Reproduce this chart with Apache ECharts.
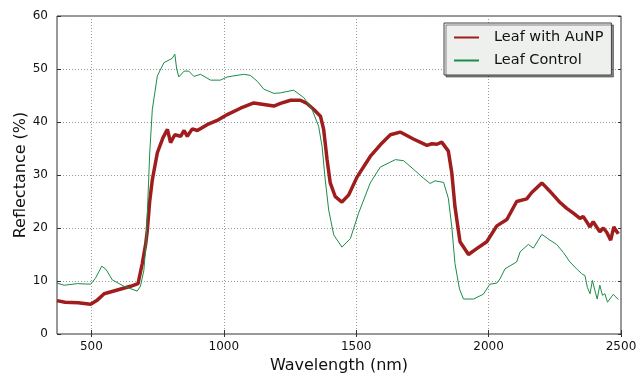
<!DOCTYPE html>
<html>
<head>
<meta charset="utf-8">
<script src="https://cdn.jsdelivr.net/npm/echarts@6/dist/echarts.min.js"></script>
<style>
  html, body { margin: 0; padding: 0; background: #fff; }
  #chart { width: 640px; height: 375px; }
</style>
</head>
<body>
<div id="chart"></div>
<script>
// reflectance spectra, values
const auWavelength = [370, 400, 450, 497, 520, 548, 598, 648, 676, 692, 705, 711, 720, 730, 749, 770, 787, 799, 815, 837, 850, 862, 881, 900, 937, 975, 1013, 1063, 1113, 1151, 1189, 1214, 1252, 1289, 1314, 1339, 1365, 1377, 1390, 1402, 1421, 1446, 1471, 1503, 1553, 1591, 1629, 1666, 1716, 1767, 1786, 1805, 1823, 1848, 1861, 1873, 1892, 1924, 1955, 1993, 2031, 2069, 2106, 2144, 2163, 2201, 2213, 2232, 2270, 2295, 2320, 2345, 2357, 2370, 2383, 2395, 2408, 2420, 2433, 2446, 2461, 2473, 2480, 2490]
const auReflectance = [6.3, 6.0, 5.9, 5.6, 6.3, 7.6, 8.3, 9.0, 9.5, 13.3, 17.0, 19.5, 25.0, 29.1, 34.2, 37.0, 38.6, 36.1, 37.6, 37.3, 38.4, 37.3, 38.7, 38.4, 39.5, 40.3, 41.4, 42.6, 43.6, 43.3, 43.0, 43.5, 44.1, 44.1, 43.5, 42.4, 41.1, 38.6, 32.9, 28.5, 25.9, 24.9, 26.2, 29.6, 33.5, 35.7, 37.6, 38.1, 36.8, 35.6, 35.9, 35.8, 36.2, 34.5, 30.4, 24.0, 17.4, 15.0, 16.1, 17.4, 20.4, 21.6, 25.0, 25.5, 26.7, 28.5, 27.9, 26.9, 24.8, 23.7, 22.8, 21.8, 22.2, 21.2, 20.2, 21.2, 20.2, 19.3, 20.0, 19.2, 17.7, 20.2, 19.6, 18.9]

const ctrlWavelength = [370, 397, 447, 497, 515, 539, 555, 579, 623, 673, 685, 698, 706, 713, 720, 730, 749, 774, 805, 815, 822, 830, 850, 868, 887, 912, 950, 987, 1013, 1075, 1100, 1126, 1151, 1189, 1214, 1264, 1302, 1333, 1358, 1371, 1383, 1396, 1415, 1446, 1478, 1509, 1553, 1591, 1648, 1679, 1716, 1754, 1779, 1798, 1830, 1848, 1861, 1873, 1890, 1905, 1943, 1980, 2005, 2031, 2043, 2062, 2106, 2119, 2150, 2169, 2201, 2232, 2257, 2282, 2307, 2332, 2351, 2364, 2373, 2383, 2392, 2402, 2410, 2420, 2430, 2439, 2449, 2458, 2471, 2480, 2490]
const ctrlReflectance = [9.6, 9.2, 9.5, 9.4, 10.5, 12.8, 12.2, 10.2, 9.0, 8.1, 9.0, 12.0, 17.0, 25.0, 34.0, 42.4, 48.7, 51.2, 52.0, 52.8, 50.0, 48.5, 49.6, 49.6, 48.6, 49.0, 47.9, 47.9, 48.5, 49.0, 48.8, 47.7, 46.2, 45.4, 45.5, 46.0, 44.6, 42.4, 39.2, 35.4, 29.1, 23.4, 18.7, 16.4, 18.0, 22.8, 28.5, 31.5, 32.9, 32.7, 31.1, 29.4, 28.4, 28.9, 28.6, 25.6, 20.2, 13.3, 8.5, 6.6, 6.6, 7.5, 9.4, 9.6, 10.4, 12.3, 13.6, 15.5, 16.9, 16.2, 18.8, 17.7, 16.9, 15.4, 13.6, 12.3, 11.4, 11.0, 8.8, 7.6, 10.1, 8.1, 6.6, 9.2, 7.3, 7.6, 6.0, 6.6, 7.5, 7.0, 6.5]

const xTicks = [500, 1000, 1500, 2000, 2500]

const font = 'DejaVu Sans'

function pairs(xs, ys) {
  return xs.map((x, i) => [x, ys[i]])
}

const myChart = echarts.init(document.getElementById('chart'))

// mirrored ticks on top / right like the matplotlib frame
const tickOnly = {
  axisLine: { show: false },
  axisLabel: { show: false },
  splitLine: { show: false },
  axisTick: { show: true, inside: true, length: 3, lineStyle: { color: '#333' } }
}

const options = {
  animation: false,
  backgroundColor: '#fff',
  grid: {
    left: 57,
    right: 19,
    top: 16,
    bottom: 41,
    outerBoundsMode: 'none',
    show: true,
    borderColor: '#333',
    borderWidth: 1
  },
  legend: {
    orient: 'vertical',
    left: 444,
    top: 23,
    padding: [7, 8, 7, 9],
    itemWidth: 25,
    itemHeight: 14,
    itemGap: 8,
    backgroundColor: '#eef0ee',
    borderColor: '#444',
    borderWidth: 1,
    shadowColor: 'rgba(0, 0, 0, 0.45)',
    shadowBlur: 0,
    shadowOffsetX: 2,
    shadowOffsetY: 2,
    itemStyle: { opacity: 0 },
    textStyle: {
      fontFamily: font,
      fontSize: 14.5,
      color: '#111',
      padding: [0, 0, 0, 10]
    },
    data: ['Leaf with AuNP', 'Leaf Control']
  },
  xAxis: [{
    type: 'value',
    min: 370,
    max: 2500,
    name: 'Wavelength (nm)',
    nameLocation: 'middle',
    nameGap: 24,
    nameMoveOverlap: false,
    nameTextStyle: { fontFamily: font, fontSize: 16, color: '#111' },
    axisLine: { show: false },
    axisTick: {
      show: true,
      inside: true,
      length: 4,
      customValues: xTicks,
      lineStyle: { color: '#333' }
    },
    axisLabel: {
      customValues: xTicks,
      margin: 7,
      fontFamily: font,
      fontSize: 12,
      color: '#111',
      formatter: (v) => String(v)
    },
    splitLine: {
      show: true,
      lineStyle: { color: '#999', type: [1, 2], width: 1 }
    }
  },
  {
    type: 'value',
    position: 'top',
    min: 370,
    max: 2500,
    ...tickOnly,
    axisTick: { ...tickOnly.axisTick, customValues: xTicks }
  }],
  yAxis: [{
    type: 'value',
    min: 0,
    max: 60,
    interval: 10,
    name: 'Reflectance (%)',
    nameLocation: 'middle',
    nameGap: 28,
    nameMoveOverlap: false,
    nameTextStyle: { fontFamily: font, fontSize: 16, color: '#111' },
    axisLine: { show: false },
    axisTick: {
      show: true,
      inside: true,
      length: 4,
      lineStyle: { color: '#333' }
    },
    axisLabel: {
      margin: 9,
      fontFamily: font,
      fontSize: 12,
      color: '#111'
    },
    splitLine: {
      show: true,
      lineStyle: { color: '#999', type: [1, 2], width: 1 }
    }
  },
  {
    type: 'value',
    position: 'right',
    min: 0,
    max: 60,
    interval: 10,
    ...tickOnly
  }],
  series: [{
    name: 'Leaf with AuNP',
    type: 'line',
    symbol: 'none',
    color: '#a01d1d',
    lineStyle: { color: '#a01d1d', width: 3.5 },
    data: pairs(auWavelength, auReflectance)
  },
  {
    name: 'Leaf Control',
    type: 'line',
    symbol: 'none',
    color: '#1b8c48',
    lineStyle: { color: '#1b8c48', width: 1 },
    data: pairs(ctrlWavelength, ctrlReflectance)
  }
  ]
}

myChart.setOption(options)
</script>
</body>
</html>
